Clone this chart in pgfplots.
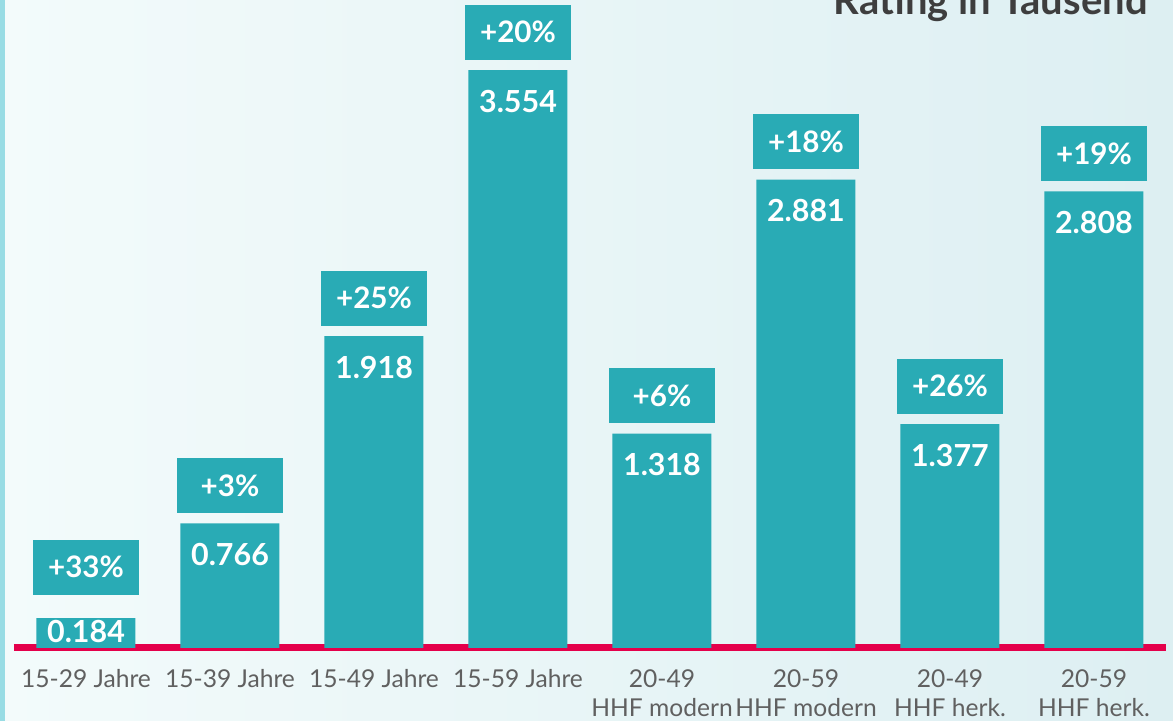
\documentclass[border=0pt]{standalone}
\usepackage{fontspec}
\setmainfont{Lato}
\usepackage{pgfplots}
\pgfplotsset{compat=1.18}
\usepackage{pgfplotstable}
\definecolor{barc}{HTML}{29ABB5}
\definecolor{redl}{HTML}{E4004B}
\definecolor{bgl}{HTML}{F3FBFB}
\definecolor{bgr}{HTML}{DDEFF2}
\definecolor{strip}{HTML}{98DCE4}
\definecolor{titc}{HTML}{3E3E3E}
\definecolor{tickc}{HTML}{606060}
\pgfplotstableread{
x val pcty valy pct lab
0 0.184 0.264 0.289 +33\% 0.184
1 0.766 0.766 0.766 +3\% 0.766
2 1.918 1.918 1.918 +25\% 1.918
3 3.554 3.554 3.554 +20\% 3.554
4 1.318 1.318 1.318 +6\% 1.318
5 2.881 2.881 2.881 +18\% 2.881
6 1.377 1.377 1.377 +26\% 1.377
7 2.808 2.808 2.808 +19\% 2.808
}\datatable
\begin{document}
\begin{tikzpicture}
\clip (0,0) rectangle (586.5pt,360.5pt);
\shade[left color=bgl, right color=bgr] (0,0) rectangle (586.5pt,360.5pt);
\fill[strip] (0,0) rectangle (2.5pt,360.5pt);
\node[anchor=base east, font=\fontsize{20}{22}\selectfont\bfseries, text=titc, inner sep=0pt] at (574pt,353pt) {Rating in Tausend};
\begin{axis}[
  at={(7pt,36.5pt)}, anchor=south west,
  scale only axis, width=576pt, height=324pt,
  xmin=-0.5, xmax=7.5, ymin=0, ymax=3.985,
  clip=false,
  hide y axis,
  axis x line*=bottom,
  x axis line style={-, draw=redl, line width=3.5pt},
  major tick length=0pt,
  xtick={0,...,7},
  xticklabels={15-29 Jahre,15-39 Jahre,15-49 Jahre,15-59 Jahre,20-49\\HHF modern,20-59\\HHF modern,20-49\\HHF herk.,20-59\\HHF herk.},
  xticklabel style={anchor=north, inner sep=0pt, yshift=-10.5pt, align=center, font=\fontsize{12.3}{14.6}\selectfont, text=tickc},
]
\addplot[ybar, bar width=49.5pt, fill=barc, draw=none] table[x=x, y=val] {\datatable};
\addplot[draw=none, mark=none, nodes near coords={\pgfplotspointmeta}, point meta=explicit symbolic,
  nodes near coords style={anchor=center, yshift=-15.5pt, text=white, font=\fontsize{15.2}{17}\selectfont\bfseries}]
  table[x=x, y=valy, meta=lab] {\datatable};
\addplot[draw=none, mark=none, nodes near coords={\pgfplotspointmeta}, point meta=explicit symbolic,
  nodes near coords style={anchor=south, yshift=5pt, fill=barc, text=white, minimum width=53pt, minimum height=27.5pt, inner sep=0pt, font=\fontsize{14.8}{16}\selectfont\bfseries}]
  table[x=x, y=pcty, meta=pct] {\datatable};
\end{axis}
\end{tikzpicture}
\end{document}
